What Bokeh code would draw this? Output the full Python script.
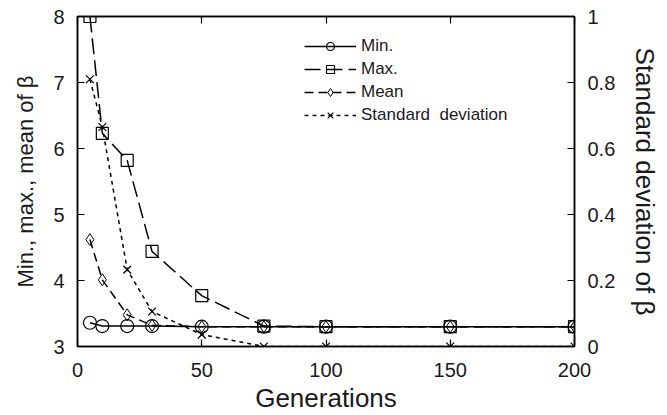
from bokeh.plotting import figure
from bokeh.models import (Range1d, LinearAxis, FixedTicker, Legend, LegendItem,
                          CustomLabelingPolicy)
from bokeh.embed import file_html
from bokeh.resources import INLINE

generations = [5, 10, 20, 30, 50, 75, 100, 150, 200]
beta_min = [3.36, 3.31, 3.31, 3.31, 3.30, 3.30, 3.30, 3.30, 3.30]
beta_max = [8.0, 6.23, 5.82, 4.44, 3.77, 3.31, 3.30, 3.30, 3.30]
beta_mean = [4.62, 4.01, 3.48, 3.32, 3.30, 3.30, 3.30, 3.30, 3.30]
beta_std = [0.81, 0.665, 0.233, 0.106, 0.036, 0.0, 0.0, 0.0, 0.0]

x_ticks = [0, 50, 100, 150, 200]
left_ticks = [3, 4, 5, 6, 7, 8]
right_ticks = [0, 0.2, 0.4, 0.6, 0.8, 1]

FONT = "Liberation Sans"
TXT = "#1a1a1a"

p = figure(width=667, height=415, x_range=Range1d(0, 200), y_range=Range1d(3, 8),
           output_backend="svg", toolbar_location=None,
           min_border_left=77, min_border_right=93, min_border_top=16, min_border_bottom=68)
p.extra_y_ranges = {"std": Range1d(0, 1)}
p.grid.visible = False
p.outline_line_color = "black"
p.outline_line_width = 1.5
p.background_fill_color = "white"
p.border_fill_color = "white"

def style_axis(ax, label_size="23px"):
    ax.major_tick_in = 7
    ax.major_tick_out = 0
    ax.minor_tick_in = 0
    ax.minor_tick_out = 0
    ax.axis_line_width = 1.5
    ax.major_tick_line_width = 1.2
    ax.major_label_text_font = FONT
    ax.major_label_text_font_size = "20px"
    ax.major_label_text_color = TXT
    ax.axis_label_text_font = FONT
    ax.axis_label_text_font_size = label_size
    ax.axis_label_text_font_style = "normal"
    ax.axis_label_text_color = TXT
    ax.major_label_standoff = 12

xa = p.xaxis[0]
xa.ticker = FixedTicker(ticks=x_ticks)
xa.axis_label = "Generations"
style_axis(xa, "26px")
xa.major_label_standoff = 16
xa.axis_label_standoff = 3

ya = p.yaxis[0]
ya.ticker = FixedTicker(ticks=left_ticks)
ya.axis_label = "Min., max., mean of β"
style_axis(ya, "22px")
ya.major_label_standoff = 13
ya.axis_label_standoff = 12

ra = LinearAxis(y_range_name="std", ticker=FixedTicker(ticks=right_ticks),
                axis_label="Standard deviation of β")
style_axis(ra, "26px")
ra.major_label_standoff = 13
ra.axis_label_standoff = 12
p.add_layout(ra, "right")

ta = LinearAxis(ticker=FixedTicker(ticks=x_ticks))
style_axis(ta)
ta.major_label_standoff = 0
ta.major_label_text_font_size = "1px"
ta.major_label_policy = CustomLabelingPolicy(code="return []")
p.add_layout(ta, "above")

lw = 1.5
r_min_l = p.line(generations, beta_min, line_color="black", line_width=lw)
r_min_m = p.scatter(generations, beta_min, marker="circle", size=13, fill_color=None,
                    line_color="black", line_width=1.2)
r_max_l = p.line(generations, beta_max, line_color="black", line_width=lw, line_dash="16 6")
r_max_m = p.scatter(generations, beta_max, marker="square", size=12, fill_color=None,
                    line_color="black", line_width=1.2)
r_mean_l = p.line(generations, beta_mean, line_color="black", line_width=lw, line_dash="9 5")
r_mean_m = p.scatter(generations, beta_mean, marker="diamond", size=12, fill_color=None,
                     line_color="black", line_width=1.0)
r_std_l = p.line(generations, beta_std, line_color="black", line_width=lw, line_dash="4 4",
                 y_range_name="std")
r_std_m = p.scatter(generations, beta_std, marker="x", size=11, line_color="black",
                    line_width=1.2, y_range_name="std")

legend = Legend(items=[
    LegendItem(label="Min.", renderers=[r_min_l, r_min_m]),
    LegendItem(label="Max.", renderers=[r_max_l, r_max_m]),
    LegendItem(label="Mean", renderers=[r_mean_l, r_mean_m]),
    LegendItem(label="Standard  deviation", renderers=[r_std_l, r_std_m]),
], location=(227, 221))
legend.border_line_color = None
legend.background_fill_alpha = 0
legend.label_text_font = FONT
legend.label_text_font_size = "17px"
legend.label_text_color = TXT
legend.glyph_width = 52
legend.glyph_height = 20
legend.spacing = 3
legend.label_standoff = 5
legend.padding = 4
legend.margin = 0
p.add_layout(legend, "center")

open("out.html", "w").write(file_html(p, INLINE))
